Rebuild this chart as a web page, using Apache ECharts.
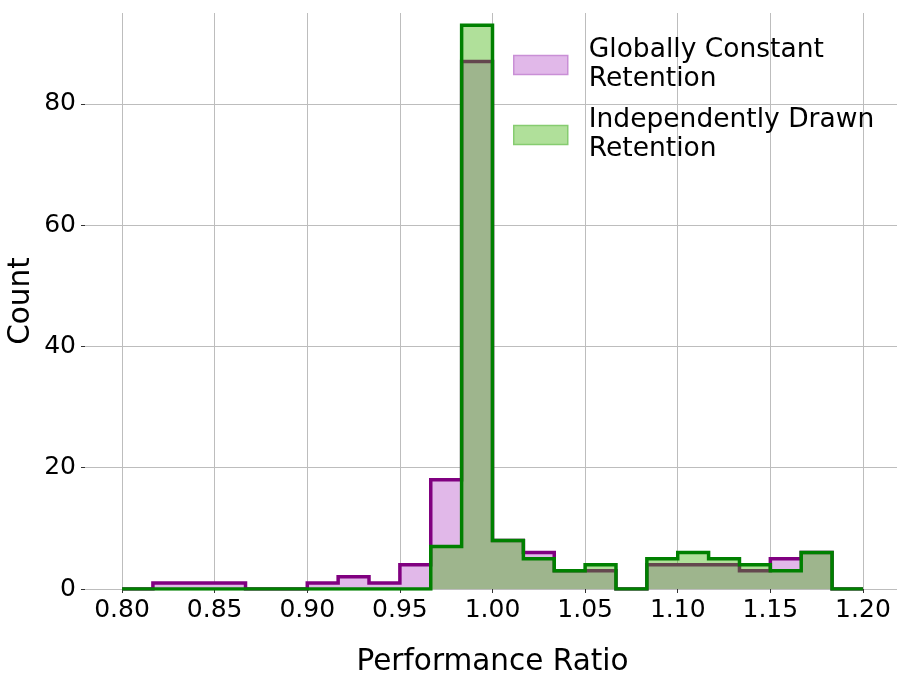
<!DOCTYPE html>
<html>
<head>
<meta charset="utf-8">
<script src="https://cdn.jsdelivr.net/npm/echarts@6/dist/echarts.min.js"></script>
<style>
html,body{margin:0;padding:0;background:#fff;}
#chart{width:897px;height:676px;}
</style>
</head>
<body>
<div id="chart"></div>
<script>
// Bin edges (24 bins of width 1/60 between 0.80 and 1.20)
var binEdges = [0.80, 0.816667, 0.833333, 0.85, 0.866667, 0.883333, 0.90, 0.916667, 0.933333, 0.95,
  0.966667, 0.983333, 1.00, 1.016667, 1.033333, 1.05, 1.066667, 1.083333, 1.10, 1.116667,
  1.133333, 1.15, 1.166667, 1.183333, 1.20];
// Counts per bin
var globallyConstant = [0, 1, 1, 1, 0, 0, 1, 2, 1, 4, 18, 87, 8, 6, 3, 3, 0, 4, 4, 4, 3, 5, 6, 0];
var independentlyDrawn = [0, 0, 0, 0, 0, 0, 0, 0, 0, 0, 7, 93, 8, 5, 3, 4, 0, 5, 6, 5, 4, 3, 6, 0];
var xTickValues = [0.80, 0.85, 0.90, 0.95, 1.00, 1.05, 1.10, 1.15, 1.20];
var yTickValues = [0, 20, 40, 60, 80];
var seriesNames = ['Globally Constant\nRetention', 'Independently Drawn\nRetention'];

function stepPoints(counts) {
  var pts = [];
  for (var i = 0; i < counts.length; i++) pts.push([binEdges[i], counts[i]]);
  pts.push([binEdges[binEdges.length - 1], 0]);
  return pts;
}

var FONT = 'DejaVu Sans';
var chart = echarts.init(document.getElementById('chart'), null, {renderer: 'canvas'});
chart.setOption({
  animation: false,
  backgroundColor: '#ffffff',
  textStyle: {fontFamily: FONT},
  grid: {left: 85, top: 13, width: 815, height: 576, containLabel: false, outerBoundsMode: 'none'},
  legend: {
    orient: 'vertical',
    left: 513,
    top: 36,
    padding: 0,
    itemGap: 12,
    itemWidth: 54,
    itemHeight: 19,
    textStyle: {fontFamily: FONT, fontSize: 26.5, lineHeight: 29, color: '#000', padding: [0, 0, 0, 16]},
    data: [
      {name: seriesNames[0], icon: 'rect', itemStyle: {color: '#e1b8e9', borderColor: '#c98fd6', borderWidth: 1.5}},
      {name: seriesNames[1], icon: 'rect', itemStyle: {color: '#b0e09a', borderColor: '#86cc70', borderWidth: 1.5}}
    ]
  },
  xAxis: {
    type: 'value',
    min: 0.78,
    max: 1.22,
    name: 'Performance Ratio',
    nameLocation: 'middle',
    nameGap: 58,
    nameMoveOverlap: false,
    nameTextStyle: {fontFamily: FONT, fontSize: 29.5, color: '#000'},
    axisLine: {show: false},
    axisTick: {show: true, length: 4, lineStyle: {color: '#333', width: 1}, customValues: xTickValues},
    axisLabel: {fontFamily: FONT, fontSize: 25, color: '#000', margin: 9, customValues: xTickValues,
      formatter: function (v) { return v.toFixed(2); }},
    splitLine: {show: true, lineStyle: {color: '#bdbdbd', width: 1}}
  },
  yAxis: {
    type: 'value',
    min: 0,
    max: 95,
    name: 'Count',
    nameLocation: 'middle',
    nameGap: 49,
    nameMoveOverlap: false,
    nameTextStyle: {fontFamily: FONT, fontSize: 29.5, color: '#000'},
    axisLine: {show: false},
    axisTick: {show: true, length: 4, lineStyle: {color: '#333', width: 1}, customValues: yTickValues},
    axisLabel: {fontFamily: FONT, fontSize: 25, color: '#000', margin: 9, customValues: yTickValues},
    splitLine: {show: true, lineStyle: {color: '#bdbdbd', width: 1}}
  },
  series: [
    {
      name: seriesNames[0],
      type: 'line',
      step: 'end',
      symbol: 'none',
      data: stepPoints(globallyConstant),
      lineStyle: {color: '#800080', width: 3.5, join: 'miter'},
      itemStyle: {color: '#800080'},
      areaStyle: {color: '#e1b8e9', opacity: 1},
      z: 3
    },
    {
      name: seriesNames[1],
      type: 'line',
      step: 'end',
      symbol: 'none',
      data: stepPoints(independentlyDrawn),
      lineStyle: {color: '#008000', width: 3.5, join: 'miter'},
      itemStyle: {color: '#008000'},
      areaStyle: {color: 'rgb(57,177,2)', opacity: 0.4},
      z: 4
    }
  ]
});
</script>
</body>
</html>
